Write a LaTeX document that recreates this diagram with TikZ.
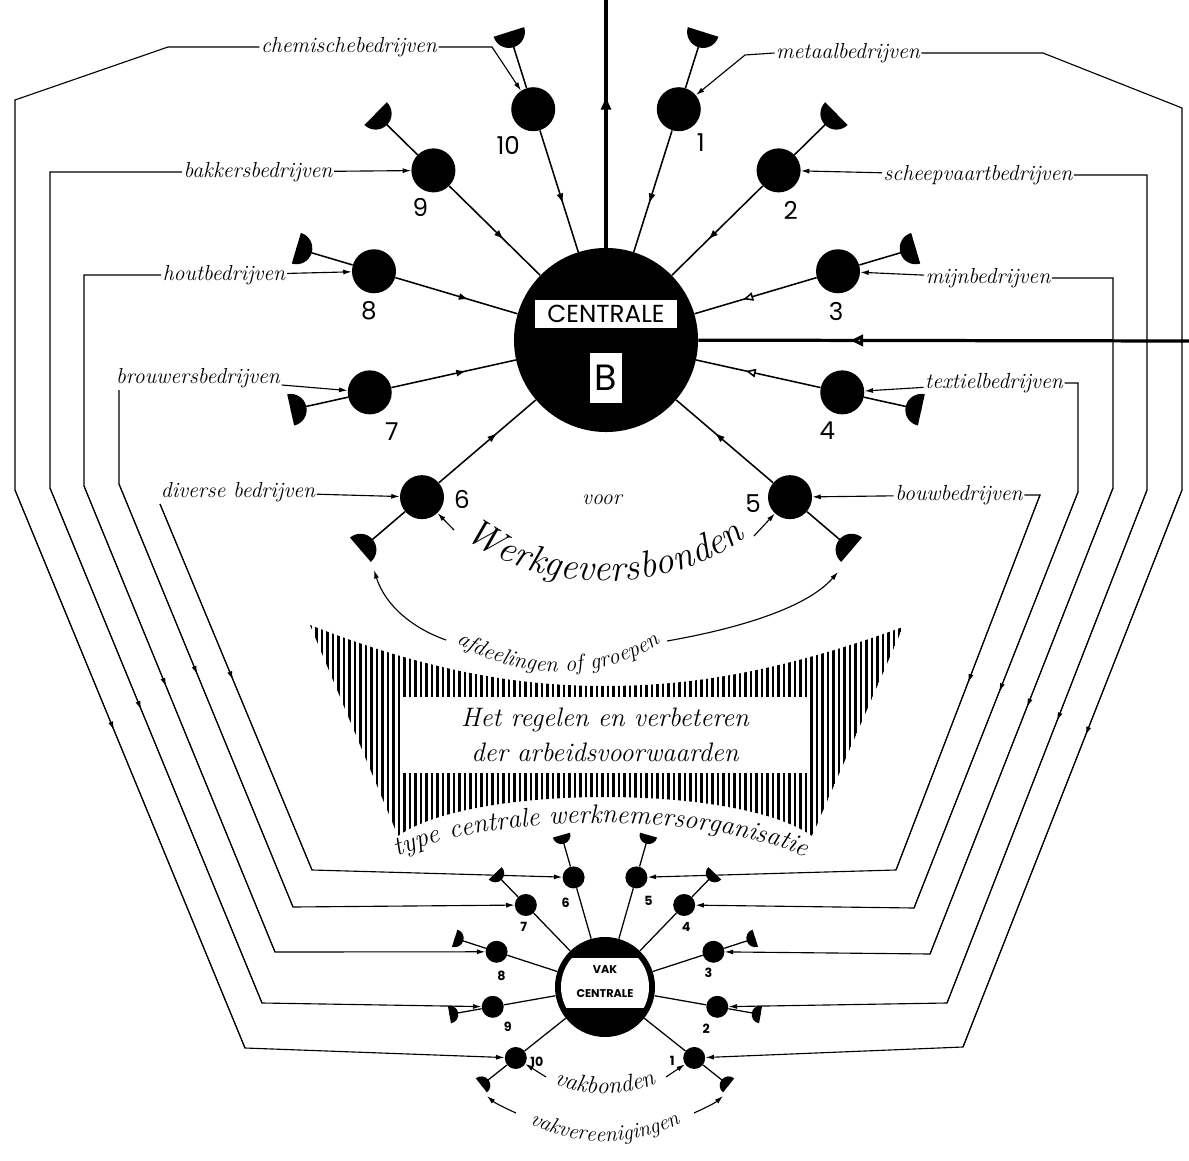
\documentclass[tikz,border=0pt]{standalone}
\usepackage{fontspec}
\newfontfamily\numfont{Poppins}
\usetikzlibrary{arrows.meta,calc,decorations.markings,decorations.text}

\newcommand\lblfont{\fontsize{15.5}{18}\selectfont\itshape}
\newcommand\wgfont{\fontsize{27}{30}\selectfont\itshape}
\newcommand\boxfont{\fontsize{19}{25}\selectfont\itshape}
\newcommand\bignumfont{\numfont\fontsize{17.5}{20}\selectfont}
\newcommand\bfont{\numfont\fontsize{26}{28}\selectfont}
\newcommand\smallnumfont{\numfont\bfseries\fontsize{9}{10}\selectfont}
\newcommand\vakfont{\numfont\bfseries\fontsize{8}{10}\selectfont}

\tikzset{
  spoketip/.tip={Latex[length=7pt,width=5pt]},
  opentip/.tip={Triangle[fill=white,length=7pt,width=6pt]},
  routetip/.tip={Latex[length=6pt,width=3.6pt]},
  trunktip/.tip={Latex[length=11pt,width=8pt]},
  trunkopen/.tip={Triangle[fill=white,length=9pt,width=8pt]},
  sat/.style={circle,fill=black,minimum size=1.1cm,inner sep=0pt},
  smallsat/.style={circle,fill=black,minimum size=0.55cm,inner sep=0pt},
  spoke/.style={line width=1.1pt},
  thinspoke/.style={line width=0.9pt},
  trunk/.style={line width=2.3pt},
  route/.style={line width=0.75pt},
  feed/.style={line width=0.8pt,-{routetip}},
  hatchline/.style={line width=1.5pt},
  lbl/.style={font=\lblfont,inner sep=1pt},
  bignum/.style={font=\bignumfont,inner sep=0pt},
  smallnum/.style={font=\smallnumfont,inner sep=0pt},
  midarrow/.style 2 args={postaction={decorate},decoration={markings,mark=at position #1 with {\arrow{#2}}}},
  arctext/.style={decorate,decoration={text along path,text={#1},text align=center}}
}

\begin{document}
\begin{tikzpicture}[x=0.025cm,y=-0.025cm]
\useasboundingbox (0,0) rectangle (1189,1161);

% hatched field round the aim
\begin{scope}
  \clip (310,625) .. controls (430,672) and (520,686) .. (605,686) .. controls (690,686) and (780,672) .. (903,627) -- (812,836) .. controls (740,784) and (470,784) .. (398,836) -- cycle;
  \foreach \x in {311,316.5,...,905}
    \draw[hatchline] (\x,600) -- (\x,860);
\end{scope}
\node[fill=white,minimum width=10.1cm,minimum height=1.9cm,align=center,font=\boxfont] (goal) at (605,735) {Het regelen en verbeteren\\der arbeidsvoorwaarden};

% centrale B
\node[circle,fill=black,minimum size=4.6cm,inner sep=0pt] (B) at (606,340) {};
\node[fill=white,minimum width=3.55cm,minimum height=0.7cm,inner sep=0pt,font=\bignumfont] (cent) at (606,314) {CENTRALE};
\node[fill=white,minimum width=0.8cm,minimum height=1.25cm,inner sep=0pt,font=\bfont] (letterB) at (606,378) {B};

\coordinate (top) at (606,0);
\coordinate (rim) at (1189,341);
\draw[trunk,midarrow={0.62}{trunktip}] (B) -- (top);
\draw[trunk,midarrow={0.69}{trunkopen}] (rim) -- (B);

% werkgeversbonden
\foreach \n/\a/\t/\dx/\dy in {1/-72.5/spoketip/22/33, 2/-44.5/spoketip/12/40, 3/-16.5/opentip/-2/40, 4/12.5/opentip/-15/38, 5/40.5/spoketip/-37/6, 6/139.5/spoketip/40/2, 7/167.5/spoketip/22/39, 8/196.5/spoketip/-5/39, 9/224.5/spoketip/-13/37, 10/252.5/spoketip/-25/36}{
  \node[sat] (s\n) at ($(B)+(\a:242)$) {};
  \coordinate (c\n) at ($(B)+(\a:323)$);
  \draw[spoke] (s\n) -- (c\n);
  \fill (c\n) ++(\a+90:16) arc[start angle=\a+90,delta angle=180,radius=16] -- cycle;
  \draw[spoke,midarrow={0.6}{\t}] (s\n) -- (B);
  \node[bignum] (n\n) at ($(s\n)+(\dx,\dy)$) {\n};
}

% vakcentrale
\node[circle,fill=black,minimum size=2.5cm,inner sep=0pt] (VK) at (605,987) {};
\begin{scope}
  \clip (VK.center) circle (44);
  \fill[white] (550,958) rectangle (660,1008);
\end{scope}
\node[font=\vakfont] (vak) at (605,970) {VAK};
\node[font=\vakfont] (vakc) at (605,994) {CENTRALE};

\foreach \n/\a/\dx/\dy in {1/38.5/-22/3, 2/10/-11/22, 3/-18/-5/21, 4/-46/2/22, 5/-74/12/23, 6/254/-8/25, 7/226/-2/22, 8/198/5/24, 9/170/15/20, 10/141.5/21/4}{
  \node[smallsat] (v\n) at ($(VK)+(\a:114)$) {};
  \coordinate (d\n) at ($(VK)+(\a:158)$);
  \draw[thinspoke] (v\n) -- (d\n);
  \fill (d\n) ++(\a+90:9) arc[start angle=\a+90,delta angle=180,radius=9] -- cycle;
  \draw[thinspoke] (v\n) -- (VK);
  \node[smallnum] (m\n) at ($(v\n)+(\dx,\dy)$) {\n};
}

% bedrijfsgroepen
\node[lbl] (chem) at (349,47) {chemischebedrijven};
\node[lbl] (bakk) at (258,172) {bakkersbedrijven};
\node[lbl] (hout) at (224,275) {houtbedrijven};
\node[lbl] (brouw) at (198,378) {brouwersbedrijven};
\node[lbl] (div) at (238,492) {diverse bedrijven};
\node[lbl] (metaal) at (848,53) {metaalbedrijven};
\node[lbl] (scheep) at (978,175) {scheepvaartbedrijven};
\node[lbl] (mijn) at (988,278) {mijnbedrijven};
\node[lbl] (textiel) at (994,383) {textielbedrijven};
\node[lbl] (bouw) at (959,495) {bouwbedrijven};

\draw[feed] (chem.east) -- (492,47) -- (s10);
\draw[feed] (bakk) -- (s9);
\draw[feed] (hout) -- (s8);
\draw[feed] (brouw) -- (s7);
\draw[feed] (div) -- (s6);
\draw[feed] (metaal.west) -- (745,55) -- (s1);
\draw[feed] (scheep) -- (s2);
\draw[feed] (mijn) -- (s3);
\draw[feed] (textiel) -- (s4);
\draw[feed] (bouw) -- (s5);

% lijnen naar de vakcentrale
\coordinate (brouwfoot) at (119,390);
\coordinate (divfoot) at (160,504);
\draw[feed] (chem.west) -- (168,47) -- (15,100) -- (15,490) -- (245,1048) -- (v10);
\draw[feed] (bakk.west) -- (50,172) -- (50,488) -- (262,1003) -- (v9);
\draw[feed] (hout.west) -- (84,275) -- (84,486) -- (275,952) -- (v8);
\draw[feed] (brouwfoot) -- (119,484) -- (293,907) -- (v7);
\draw[feed] (divfoot) -- (312,870) -- (v6);
\draw[feed] (metaal.east) -- (1043,53) -- (1182,108) -- (1182,490) -- (963,1047) -- (v1);
\draw[feed] (scheep.east) -- (1147,175) -- (1147,490) -- (947,1003) -- (v2);
\draw[feed] (mijn.east) -- (1113,278) -- (1113,488) -- (930,954) -- (v3);
\draw[feed] (textiel.east) -- (1078,383) -- (1078,492) -- (914,908) -- (v4);
\draw[feed] (bouw.east) -- (1040,495) -- (896,870) -- (v5);

\draw[route,midarrow={0.43}{routetip}] (15,490) -- (245,1048);
\draw[route,midarrow={0.43}{routetip}] (50,488) -- (262,1003);
\draw[route,midarrow={0.43}{routetip}] (84,486) -- (275,952);
\draw[route,midarrow={0.45}{routetip}] (119,484) -- (293,907);
\draw[route,midarrow={0.48}{routetip}] (divfoot) -- (312,870);
\draw[route,midarrow={0.44}{routetip}] (1182,490) -- (963,1047);
\draw[route,midarrow={0.45}{routetip}] (1147,490) -- (947,1003);
\draw[route,midarrow={0.47}{routetip}] (1113,488) -- (930,954);
\draw[route,midarrow={0.48}{routetip}] (1078,492) -- (914,908);
\draw[route,midarrow={0.5}{routetip}] (1040,495) -- (896,870);

% opschriften langs bogen
\node[lbl] (voor) at (602,500) {voor};
\path[arctext={|\wgfont|Werkgeversbonden}] (450,524) .. controls (525,600) and (685,600) .. (760,524);
\coordinate (wgL) at (454,530);
\coordinate (wgR) at (754,536);
\draw[feed] (wgL) -- (s6);
\draw[feed] (wgR) -- (s5);

\path[arctext={|\fontsize{16}{18}\selectfont\itshape|afdeelingen of groepen}] (438,628) .. controls (500,686) and (620,686) .. (678,628);
\coordinate (afdL) at (446,640);
\coordinate (afdR) at (667,641);
\coordinate (a6) at (374,570);
\coordinate (a5) at (838,572);
\draw[feed] (afdL) .. controls (412,628) and (385,605) .. (a6);
\draw[feed] (afdR) .. controls (730,630) and (805,610) .. (a5);

\path[arctext={|\fontsize{19}{21}\selectfont\itshape|type centrale werknemersorganisatie}] (376,868) .. controls (470,808) and (730,808) .. (826,868);

\path[arctext={|\fontsize{17}{19}\selectfont\itshape|vakbonden}] (536,1072) .. controls (570,1101) and (640,1101) .. (674,1072);
\coordinate (vbL) at (546,1077);
\coordinate (vbR) at (666,1077);
\draw[feed] (vbL) -- (v10);
\draw[feed] (vbR) -- (v1);

\path[arctext={|\fontsize{15.5}{17}\selectfont\itshape|vakvereenigingen}] (504,1106) .. controls (560,1153) and (650,1153) .. (706,1106);
\coordinate (vvL) at (516,1113);
\coordinate (vvR) at (694,1113);
\coordinate (e10) at (487,1096);
\coordinate (e1) at (723,1096);
\draw[feed] (vvL) .. controls (505,1108) and (495,1103) .. (e10);
\draw[feed] (vvR) .. controls (705,1108) and (715,1103) .. (e1);
\end{tikzpicture}
\end{document}
